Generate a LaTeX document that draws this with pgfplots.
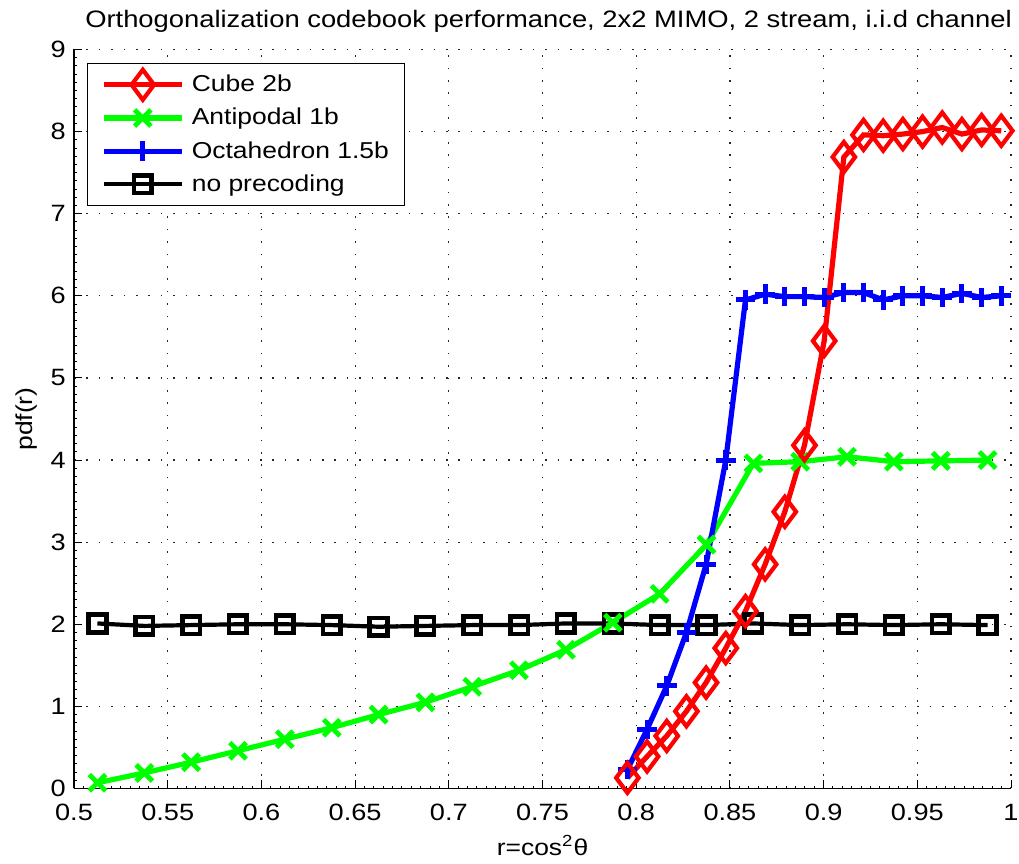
\documentclass[border=0pt]{standalone}
\usepackage{fontspec}
\setmainfont{Liberation Sans}[FakeStretch=1.15]
\usepackage{pgfplots}
\pgfplotsset{compat=1.18}
\usetikzlibrary{calc}
\definecolor{mred}{RGB}{255,0,0}
\definecolor{mgreen}{RGB}{0,255,0}
\definecolor{mblue}{RGB}{0,0,255}
\begin{document}
\begin{tikzpicture}
\begin{axis}[
  scale only axis,
  width=468.5pt, height=369.5pt,
  xmin=0.5, xmax=1, ymin=0, ymax=9,
  axis lines*=left,
  axis line style={line width=0.6pt, black},
  xtick={0.5,0.55,0.6,0.65,0.7,0.75,0.8,0.85,0.9,0.95,1},
  xticklabels={0.5,0.55,0.6,0.65,0.7,0.75,0.8,0.85,0.9,0.95,1},
  ytick={0,1,2,3,4,5,6,7,8,9},
  minor x tick num=9, minor y tick num=9,
  tick align=inside,
  major tick length=4pt, minor tick length=1.4pt,
  tick style={black, line width=0.5pt},
  grid=major,
  grid style={black!85, line width=0.6pt, dash pattern=on 0.8pt off 5.4pt},
  /pgf/number format/assume math mode=true,
  tick label style={font=\fontsize{11.8}{14}\selectfont},
  xticklabel style={yshift=-4.2pt},
  yticklabel style={xshift=-0.6pt},
  title={Orthogonalization codebook performance, 2x2 MIMO, 2 stream, i.i.d channel},
  title style={font=\fontsize{11.9}{14}\selectfont, at={(axis description cs:0.5,1)}, anchor=base, yshift=4.9pt, xshift=3pt},
  xlabel={r=cos\textsuperscript{2}θ},
  xlabel style={font=\fontsize{11.5}{13.8}\selectfont, at={(axis description cs:0.5,0)}, anchor=base, yshift=-33.25pt},
  ylabel={pdf(r)},
  ylabel style={font=\fontsize{11.5}{13.8}\selectfont, at={(axis description cs:0,0.5)}, anchor=center, yshift=23.5pt},
  legend cell align=left,
  legend image code/.code={%
    \draw[overlay, mark repeat=2, mark phase=2, #1] plot coordinates {(0pt,0pt) (19.5pt,0pt) (39pt,0pt)};
    \path[draw=none, fill=none] (0pt,-5pt) rectangle (39pt,5pt);
  },
  legend style={at={(axis description cs:0,1)}, anchor=north west, xshift=6.65pt, yshift=-6.9pt,
    draw=black, line width=0.5pt, fill=white,
    font=\fontsize{11.5}{13.8}\selectfont,
    inner xsep=8pt, inner ysep=4pt, row sep=3.6pt, column sep=5pt,
    nodes={inner sep=0pt, text height=10pt, text depth=3pt}},
]
\coordinate (sw) at (rel axis cs:0,0);
\coordinate (ne) at (rel axis cs:1,1);

% legend entries in original order
\addlegendimage{color=mred, line width=2.6pt, mark=diamond, mark size=7.5pt, mark options={solid, line width=2.1pt}}
\addlegendentry{Cube 2b}
\addlegendimage{color=mgreen, line width=2.6pt, mark=x, mark size=5.8pt, mark options={solid, line width=2.4pt}}
\addlegendentry{Antipodal 1b}
\addlegendimage{color=mblue, line width=2.6pt, mark=+, mark size=4.9pt, mark options={solid, line width=2.5pt}}
\addlegendentry{Octahedron 1.5b}
\addlegendimage{color=black, line width=2.1pt, mark=square, mark size=4.4pt, mark options={solid, line width=2.3pt}}
\addlegendentry{no precoding}

% no precoding
\addplot[forget plot, color=black, line width=2.1pt, mark=square, mark size=4.4pt, mark options={solid, line width=2.3pt}] coordinates {
(0.5125,2.01) (0.5375,1.98) (0.5625,1.99) (0.5875,2.00) (0.6125,2.00)
(0.6375,1.99) (0.6625,1.97) (0.6875,1.98) (0.7125,1.99) (0.7375,1.99)
(0.7625,2.01) (0.7875,2.01) (0.8125,1.99) (0.8375,1.99) (0.8625,2.01)
(0.8875,1.99) (0.9125,2.00) (0.9375,1.99) (0.9625,2.00) (0.9875,1.99)
};
% Antipodal 1b
\addplot[forget plot, color=mgreen, line width=2.6pt, mark=x, mark size=5.8pt, mark options={solid, line width=2.4pt}] coordinates {
(0.5125,0.07) (0.5375,0.19) (0.5625,0.32) (0.5875,0.46) (0.6125,0.60)
(0.6375,0.74) (0.6625,0.90) (0.6875,1.05) (0.7125,1.24) (0.7375,1.44)
(0.7625,1.69) (0.7875,2.02) (0.8125,2.37) (0.8375,2.97) (0.8625,3.96)
(0.8875,3.98) (0.9125,4.04) (0.9375,3.98) (0.9625,3.99) (0.9875,4.00)
};
% Octahedron 1.5b
\addplot[forget plot, color=mblue, line width=2.6pt, mark=+, mark size=4.9pt, mark options={solid, line width=2.5pt}] coordinates {
(0.7953,0.23) (0.8058,0.72) (0.8163,1.25) (0.8268,1.90) (0.8373,2.73)
(0.8478,4.00) (0.8583,5.95) (0.8688,6.02) (0.8793,5.99) (0.8898,5.99)
(0.9003,5.98) (0.9108,6.04) (0.9213,6.04) (0.9318,5.95) (0.9423,6.00)
(0.9528,6.00) (0.9633,5.98) (0.9738,6.03) (0.9843,5.98) (0.9948,6.00)
};
% Cube 2b
\addplot[forget plot, color=mred, line width=2.6pt, mark=diamond, mark size=7.5pt, mark options={solid, line width=2.1pt}] coordinates {
(0.7953,0.13) (0.8058,0.39) (0.8163,0.64) (0.8268,0.94) (0.8373,1.29)
(0.8478,1.71) (0.8583,2.16) (0.8688,2.73) (0.8793,3.37) (0.8898,4.18)
(0.9003,5.45) (0.9108,7.69) (0.9213,7.96) (0.9318,7.95) (0.9423,7.97)
(0.9528,8.00) (0.9633,8.05) (0.9738,7.97) (0.9843,8.02) (0.9948,8.01)
};
\end{axis}
\pgfresetboundingbox
\path ($(sw)+(-37pt,-37.75pt)$) rectangle ($(ne)+(4pt,24.75pt)$);
\end{tikzpicture}
\end{document}
